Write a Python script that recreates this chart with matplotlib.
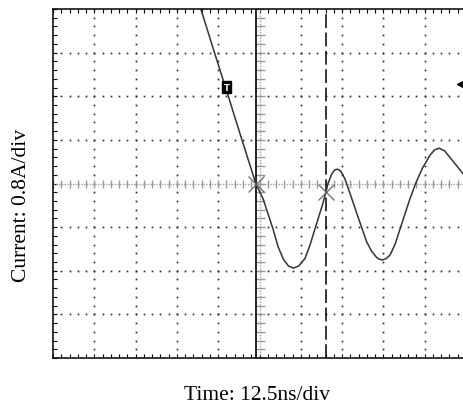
import matplotlib
matplotlib.use("Agg")
import matplotlib.pyplot as plt
import numpy as np

# waveform, in divisions (x: 0..10, y: -4..4)
time_div = [3.58, 3.91, 4.245, 4.575, 4.91, 5.09, 5.33, 5.45, 5.58, 5.70, 5.82,
            5.95, 6.10, 6.22, 6.34, 6.54, 6.66, 6.75, 6.82, 6.89, 6.96, 7.02,
            7.07, 7.20, 7.35, 7.60, 7.72, 7.84, 7.91, 7.98, 8.07, 8.16, 8.28,
            8.40, 8.64, 8.78, 8.95, 9.13, 9.24, 9.35, 9.48, 9.61, 9.78, 9.95]
current_div = [4.0, 3.0, 2.0, 1.0, 0.0, -0.36, -1.05, -1.45, -1.74, -1.89, -1.94,
               -1.89, -1.72, -1.42, -1.05, -0.44, 0.0, 0.22, 0.31, 0.33, 0.29, 0.20,
               0.10, -0.25, -0.67, -1.35, -1.56, -1.70, -1.74, -1.75, -1.72, -1.64, -1.40,
               -1.05, -0.36, 0.0, 0.36, 0.65, 0.77, 0.81, 0.75, 0.60, 0.40, 0.20]

cursor_a = 4.91
cursor_b = 6.62
cursor_marks_x = [4.91, 6.62]
cursor_marks_y = [0.0, -0.19]
trigger_pos = (4.20, 2.21)
trigger_level = 2.29

x_label = "Time: 12.5ns/div"
y_label = "Current: 0.8A/div"

plt.rcParams['font.family'] = ['Liberation Serif', 'DejaVu Serif']

fig = plt.figure(figsize=(4.64, 4.06), dpi=100)
# right edge of the screen is cut off by the image
ax = fig.add_axes([53 / 464, 47 / 406, 413 / 464, 349 / 406])
ax.set_xlim(0, 10)
ax.set_ylim(-4, 4)

# dotted graticule
minor = np.arange(0, 10.01, 0.2)
minor_y = np.arange(-4, 4.01, 0.2)
for gx in [1, 2, 3, 4, 6, 7, 8, 9]:
    ax.plot(np.full_like(minor_y, gx), minor_y, ls='none', marker='s', ms=1.2,
            mew=0, color='#222222')
for gy in [-3, -2, -1, 1, 2, 3]:
    ax.plot(minor, np.full_like(minor, gy), ls='none', marker='s', ms=1.2,
            mew=0, color='#222222')

# center axes with small ticks
ax.axhline(0, color='#a0a0a0', lw=1, ls=(0, (1, 1)))
ax.axvline(5, color='#a0a0a0', lw=1, ls=(0, (1, 1)))
ax.plot(minor, np.zeros_like(minor), ls='none', marker='|', ms=6, mew=1,
        color='#999999')
ax.plot(np.full_like(minor_y, 5), minor_y, ls='none', marker='_', ms=7, mew=1,
        color='#999999')

# cursors
ax.axvline(cursor_a, color='black', lw=1.2)
ax.axvline(cursor_b, color='black', lw=1.1, ls=(0, (9, 3)))

# waveform
ax.plot(time_div, current_div, color='#333333', lw=1.1)

ax.plot(cursor_marks_x, cursor_marks_y, ls='none', marker='x', ms=11, mew=0.9,
        color='#666666')

# trigger markers
ax.text(trigger_pos[0], trigger_pos[1], 'T', color='white', fontsize=6,
        fontweight='bold', family='DejaVu Sans', ha='center', va='center',
        bbox=dict(boxstyle='square,pad=0.2', fc='black', ec='black'))
ax.plot([9.85], [trigger_level], marker='<', ms=5, color='black')
ax.plot([9.85, 10.0], [trigger_level, trigger_level], color='black', lw=1.6)

for side in ['left', 'top', 'bottom']:
    ax.spines[side].set_linewidth(1.1)
ax.spines['right'].set_visible(False)
ax.set_xticks(np.arange(0, 10.01, 1))
ax.set_yticks(np.arange(-4, 4.01, 1))
ax.set_xticks(minor, minor=True)
ax.set_yticks(minor_y, minor=True)
ax.tick_params(which='both', direction='in', length=3, width=0.8,
               top=True, bottom=True, left=True, right=False,
               labelbottom=False, labelleft=False)

fig.text(257 / 464, 6 / 406, x_label, fontsize=15.5, ha='center',
         va='baseline')
fig.text(31 / 464, 0.495, y_label, fontsize=15.5, rotation=90,
         ha='right', va='center')

fig.savefig("out.png", dpi=100)
